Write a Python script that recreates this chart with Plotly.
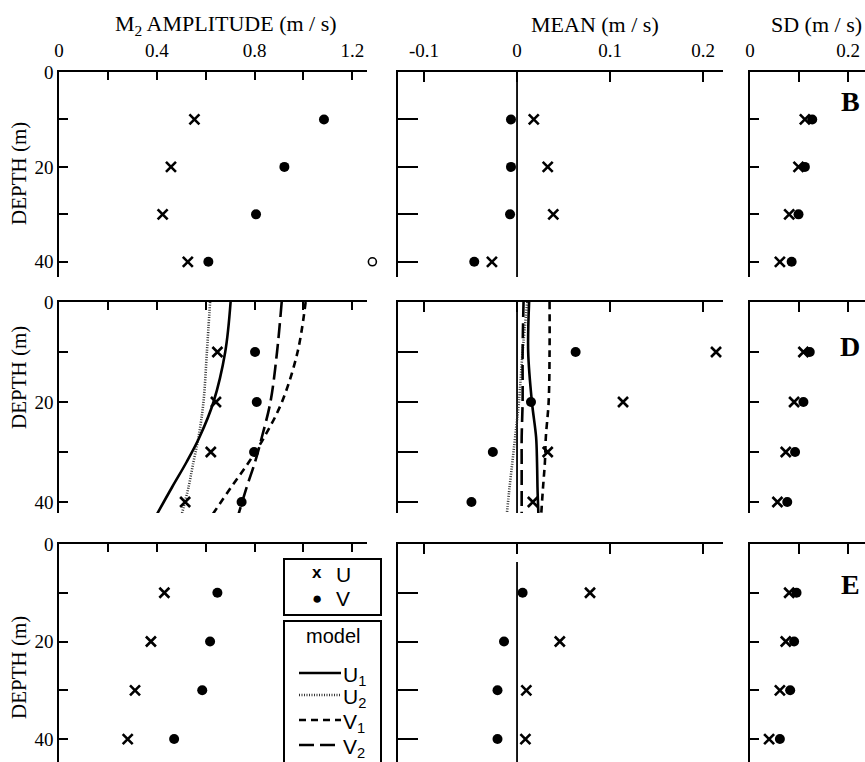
import plotly.graph_objects as go

W, H = 865, 762
def PX(x): return x / W
def PY(y): return 1 - y / H

SERIF = "Liberation Serif"
SANS = "Liberation Sans"

# ---------------- data ----------------
depths = [10, 20, 30, 40]

# M2 amplitude (m/s)
amp_U_B = [0.554, 0.458, 0.424, 0.527]
amp_V_B = [1.084, 0.922, 0.806, 0.611]
amp_offscale_B = [1.282]
amp_offscale_depth_B = [40]
amp_U_D = [0.648, 0.642, 0.621, 0.516]
amp_V_D = [0.802, 0.809, 0.798, 0.747]
amp_U_E = [0.431, 0.376, 0.311, 0.281]
amp_V_E = [0.648, 0.618, 0.586, 0.471]

# Mean (m/s)
mean_U_B = [0.018, 0.033, 0.039, -0.027]
mean_V_B = [-0.0065, -0.0065, -0.0075, -0.046]
mean_U_D = [0.214, 0.114, 0.033, 0.017]
mean_V_D = [0.063, 0.015, -0.026, -0.049]
mean_U_E = [0.0785, 0.046, 0.010, 0.009]
mean_V_E = [0.006, -0.014, -0.021, -0.021]

# SD (m/s)
sd_U_B = [0.112, 0.099, 0.080, 0.061]
sd_V_B = [0.127, 0.112, 0.099, 0.085]
sd_U_D = [0.109, 0.090, 0.073, 0.056]
sd_V_D = [0.122, 0.109, 0.092, 0.076]
sd_U_E = [0.080, 0.073, 0.061, 0.039]
sd_V_E = [0.095, 0.090, 0.082, 0.061]

# Model profiles (station D)
model_depth = [0, 10, 20, 27, 32, 37, 42.5]
amp_U1 = [0.702, 0.680, 0.632, 0.575, 0.522, 0.463, 0.400]
amp_U2 = [0.618, 0.605, 0.591, 0.571, 0.550, 0.530, 0.502]
amp_V1 = [1.009, 0.976, 0.912, 0.840, 0.777, 0.705, 0.628]
amp_V2 = [0.911, 0.892, 0.865, 0.830, 0.802, 0.768, 0.734]
mean_U1 = [0.013, 0.012, 0.016, 0.0205, 0.0215, 0.022, 0.023]
mean_U2 = [0.011, 0.006, 0.002, -0.002, -0.005, -0.008, -0.011]
mean_V1 = [0.035, 0.035, 0.034, 0.031, 0.030, 0.028, 0.026]
mean_V2 = [0.007, 0.006, 0.006, 0.005, 0.005, 0.005, 0.005]

panel_letters = ["B", "D", "E"]
col_titles = ["M<sub>2</sub> AMPLITUDE (m / s)", "MEAN (m / s)", "SD (m / s)"]

# ---------------- layout geometry ----------------
col_dom = [(59, 367), (398, 723), (750, 865)]
col_rng = [[0, 1.26], [-0.128, 0.2215], [0, 0.2347]]
row_dom = [(72, 277), (302, 513), (544, 762)]
row_rng = [[43.2, 0], [42.2, 0], [44.7, 0]]
zero_line_span = [(0, 43.2), (0, 42.2), (3.7, 44.7)]

x_major = [[0, 0.4, 0.8, 1.2], [-0.1, 0, 0.1, 0.2], [0, 0.2]]
x_major_text = [["0", "0.4", "0.8", "1.2"], ["-0.1", "0", "0.1", "0.2"], ["0", "0.2"]]
x_minor = [[0.2, 0.6, 1.0], [], [0.1]]
x_ticklen = [8, 10, 10]
y_ticklen = [9, 20, 9]

fig = go.Figure()

data = [
    [(amp_U_B, amp_V_B), (mean_U_B, mean_V_B), (sd_U_B, sd_V_B)],
    [(amp_U_D, amp_V_D), (mean_U_D, mean_V_D), (sd_U_D, sd_V_D)],
    [(amp_U_E, amp_V_E), (mean_U_E, mean_V_E), (sd_U_E, sd_V_E)],
]

line_styles = {
    "U1": dict(color="black", width=2.6, dash="solid"),
    "U2": dict(color="#333333", width=2.6, dash="1px,1.5px"),
    "V1": dict(color="black", width=2.6, dash="7px,5px"),
    "V2": dict(color="black", width=2.6, dash="15px,6px"),
}

layout_axes = {}
for r in range(3):
    for c in range(3):
        i = r * 3 + c + 1
        xs = "x" if i == 1 else f"x{i}"
        ys = "y" if i == 1 else f"y{i}"
        xa = "xaxis" if i == 1 else f"xaxis{i}"
        ya = "yaxis" if i == 1 else f"yaxis{i}"
        xd = dict(
            domain=[PX(col_dom[c][0]), PX(col_dom[c][1])],
            range=col_rng[c], anchor=ys, side="top", automargin=False,
            showline=True, linecolor="black", linewidth=1.6,
            ticks="inside", ticklen=x_ticklen[c], tickwidth=1.6, tickcolor="black",
            tickmode="array", tickvals=x_major[c], ticktext=x_major_text[c],
            showticklabels=(r == 0), ticklabelstandoff=6,
            showgrid=False, zeroline=False,
            tickfont=dict(family=SERIF, size=19, color="black"),
        )
        if x_minor[c]:
            xd["minor"] = dict(tickmode="array", tickvals=x_minor[c], ticks="inside",
                               ticklen=x_ticklen[c], tickwidth=1.6, tickcolor="black",
                               showgrid=False)
        layout_axes[xa] = xd
        yd = dict(
            domain=[PY(row_dom[r][1]), PY(row_dom[r][0])],
            range=row_rng[r], anchor=xs, automargin=False,
            showline=True, linecolor="black", linewidth=1.6,
            ticks="inside", ticklen=y_ticklen[c], tickwidth=1.6, tickcolor="black",
            showgrid=False, zeroline=False,
            tickfont=dict(family=SERIF, size=19, color="black"),
        )
        if c == 0:
            yd.update(tickmode="array", tickvals=[0, 20, 40], ticktext=["0", "20", "40"],
                      showticklabels=True,
                      minor=dict(tickmode="array", tickvals=[10, 30], ticks="inside",
                                 ticklen=y_ticklen[c], tickwidth=1.6, tickcolor="black",
                                 showgrid=False))
        else:
            yd.update(tickmode="array", tickvals=[10, 20, 30, 40], showticklabels=False)
        layout_axes[ya] = yd

        U, V = data[r][c]
        # zero line in mean panels
        if c == 1:
            fig.add_trace(go.Scatter(x=[0, 0], y=list(zero_line_span[r]), mode="lines",
                                     line=dict(color="black", width=1.8),
                                     xaxis=xs, yaxis=ys, showlegend=False, hoverinfo="skip"))
        # model lines for station D
        if r == 1 and c in (0, 1):
            prof = {"U1": amp_U1, "U2": amp_U2, "V1": amp_V1, "V2": amp_V2} if c == 0 else \
                   {"U1": mean_U1, "U2": mean_U2, "V1": mean_V1, "V2": mean_V2}
            for k in ["U2", "V2", "V1", "U1"]:
                fig.add_trace(go.Scatter(x=prof[k], y=model_depth, mode="lines",
                                         line=dict(shape="spline", **line_styles[k]),
                                         xaxis=xs, yaxis=ys, showlegend=False))
        fig.add_trace(go.Scatter(x=U, y=depths, mode="markers",
                                 marker=dict(symbol="x-thin", size=10, color="black",
                                             line=dict(color="black", width=2.6)),
                                 xaxis=xs, yaxis=ys, showlegend=False))
        fig.add_trace(go.Scatter(x=V, y=depths, mode="markers",
                                 marker=dict(symbol="circle", size=10, color="black",
                                             line=dict(width=0)),
                                 xaxis=xs, yaxis=ys, showlegend=False))

# off-scale value (open circle) drawn on an invisible extension of the amplitude axis
ext_right = 392
layout_axes["xaxis10"] = dict(domain=[PX(59), PX(ext_right)],
                              range=[0, 1.26 * (ext_right - 59) / (367 - 59)],
                              anchor="y", visible=False, automargin=False,
                              showgrid=False, zeroline=False)
fig.add_trace(go.Scatter(x=amp_offscale_B, y=amp_offscale_depth_B, mode="markers",
                         marker=dict(symbol="circle-open", size=8, color="black",
                                     line=dict(color="black", width=1.6)),
                         xaxis="x10", yaxis="y", showlegend=False))

annotations = []
def ann(x, y, text, size, family=SERIF, xanchor="center", **kw):
    annotations.append(dict(x=PX(x), y=PY(y), xref="paper", yref="paper", text=text,
                            showarrow=False, xanchor=xanchor, yanchor="middle",
                            font=dict(family=family, size=size, color="black"), **kw))

# column titles
for cx, t in zip([226, 595, 816], col_titles):
    ann(cx, 25, t, 22)
# depth labels
for cy in [174, 378, 668]:
    ann(19, cy, "DEPTH (m)", 21, textangle=-90)
# panel letters
for L, cy in zip(panel_letters, [102, 347, 584]):
    ann(850, cy, f"<b>{L}</b>", 28)

# legend boxes (drawn)
shapes = []
shapes.append(dict(type="rect", xref="paper", yref="paper", x0=PX(284), x1=PX(381),
                   y0=PY(615), y1=PY(559), line=dict(color="black", width=2), fillcolor="white",
                   layer="above"))
shapes.append(dict(type="rect", xref="paper", yref="paper", x0=PX(284), x1=PX(381),
                   y0=PY(775), y1=PY(621), line=dict(color="black", width=2), fillcolor="white",
                   layer="above"))
ann(317, 572, "<b>x</b>", 17, family=SANS)
ann(343, 574, "U", 21, family=SANS)
ann(317, 598, "●", 17, family=SANS)
ann(343, 598, "V", 21, family=SANS)
ann(333, 636, "model", 20, family=SANS)
leg_rows = [("U1", "U<sub>1</sub>", 673), ("U2", "U<sub>2</sub>", 695),
            ("V1", "V<sub>1</sub>", 720), ("V2", "V<sub>2</sub>", 745)]
for k, txt, yy in leg_rows:
    st = line_styles[k]
    shapes.append(dict(type="line", xref="paper", yref="paper", x0=PX(299), x1=PX(341),
                       y0=PY(yy), y1=PY(yy), layer="above",
                       line=dict(color=st["color"], width=st["width"], dash=st["dash"])))
    ann(341, yy + 3, txt, 21, family=SANS, xanchor="left")

fig.update_layout(
    width=W, height=H,
    margin=dict(l=0, r=0, t=0, b=0, autoexpand=False),
    paper_bgcolor="white", plot_bgcolor="rgba(0,0,0,0)",
    showlegend=False,
    annotations=annotations, shapes=shapes,
    **layout_axes,
)

fig.write_html("out.html")
